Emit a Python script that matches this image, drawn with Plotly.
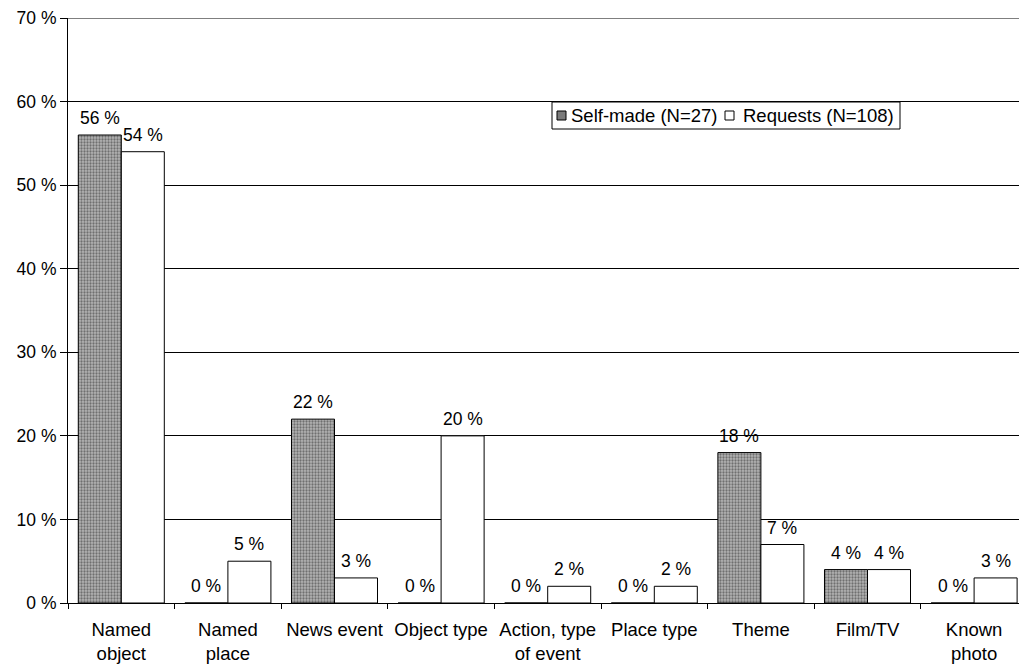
import plotly.graph_objects as go

categories = ["Named<br>object", "Named<br>place", "News event", "Object type",
              "Action, type<br>of event", "Place type", "Theme", "Film/TV",
              "Known<br>photo"]
self_made = [56, 0, 22, 0, 0, 0, 18, 4, 0]
requests = [54, 5, 3, 20, 2, 2, 7, 4, 3]
y_ticks = [0, 10, 20, 30, 40, 50, 60, 70]
series_names = ["Self-made (N=27)", "Requests (N=108)"]

W, H = 1019, 664
L, T, B, R = 68, 18, 61, 0
plot_w = W - L - R
plot_h = H - T - B
cat_px = 106.6
x_hi = -0.5 + plot_w / cat_px
bar_px = cat_px * 0.807 / 2

family = "Liberation Sans, Arial, sans-serif"
font = dict(family=family, size=17.5, color="black")
font_big = dict(family=family, size=18.5, color="black")
dark_fill = dict(color="#9a9a9a", line=dict(color="black", width=1),
                 pattern=dict(shape=".", fgcolor="#2a2a2a", bgcolor="#b4b4b4",
                              size=3, solidity=0.45))


def px_x(p):
    return (p - L) / plot_w


def px_y(p):
    return (H - B - p) / plot_h


fig = go.Figure()
fig.add_trace(go.Bar(x=categories, y=self_made, name=series_names[0],
                     marker=dark_fill, showlegend=False))
fig.add_trace(go.Bar(x=categories, y=requests, name=series_names[1],
                     marker=dict(color="white", line=dict(color="black", width=1)),
                     showlegend=False))

# value labels above each bar
for vals, shift in ((self_made, -bar_px / 2), (requests, bar_px / 2)):
    for c, v in zip(categories, vals):
        fig.add_annotation(x=c, y=v, text=f"{v} %", showarrow=False,
                           xref="x", yref="y", xshift=shift, yshift=5,
                           yanchor="bottom", font=font)

# top border of the plot area
fig.add_shape(type="line", xref="paper", yref="y", x0=0, x1=1, y0=70, y1=70,
              line=dict(color="black", width=1))

# legend box with its two keys
fig.add_shape(type="rect", xref="paper", yref="paper",
              x0=px_x(552), x1=px_x(900), y0=px_y(129), y1=px_y(102),
              fillcolor="white", line=dict(color="black", width=1))
fig.add_shape(type="rect", xref="paper", yref="paper",
              x0=px_x(557), x1=px_x(566), y0=px_y(120), y1=px_y(111),
              fillcolor="#7a7a7a", line=dict(color="black", width=1))
fig.add_shape(type="rect", xref="paper", yref="paper",
              x0=px_x(725), x1=px_x(734), y0=px_y(120), y1=px_y(111),
              fillcolor="white", line=dict(color="black", width=1))
for name, xp in zip(series_names, (569, 741)):
    fig.add_annotation(x=px_x(xp), y=px_y(115.5), xref="paper", yref="paper",
                       text=name, showarrow=False, xanchor="left",
                       yanchor="middle", font=font_big)

fig.update_layout(
    width=W, height=H,
    margin=dict(l=L, r=R, t=T, b=B),
    paper_bgcolor="white", plot_bgcolor="white",
    font=font,
    barmode="group", bargap=0.193, bargroupgap=0,
    showlegend=False,
)
fig.update_xaxes(
    range=[-0.5, x_hi], type="category",
    showline=True, linecolor="black", linewidth=1,
    ticks="outside", tickson="boundaries", ticklen=5, tickcolor="black",
    ticklabelstandoff=10,
    showgrid=False, tickfont=font_big,
)
fig.update_yaxes(
    range=[0, 70], tickvals=y_ticks, ticktext=[f"{v} %" for v in y_ticks],
    showline=True, linecolor="black", linewidth=1,
    ticks="outside", ticklen=7, tickcolor="black",
    showgrid=True, gridcolor="black", gridwidth=1,
    zeroline=False, tickfont=font,
)

fig.write_html("out.html")
